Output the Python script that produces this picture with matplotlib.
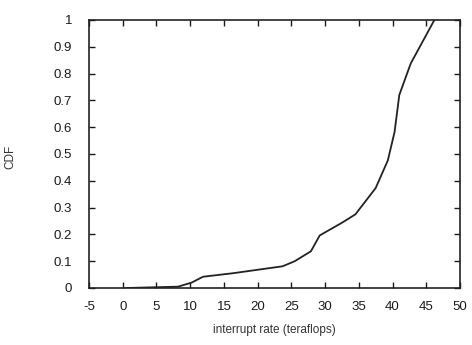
import matplotlib
matplotlib.use('Agg')
import matplotlib.pyplot as plt

plt.rcParams['font.family'] = ['Liberation Sans', 'DejaVu Sans']
plt.rcParams['axes.unicode_minus'] = False

# CDF curve
rate = [0.5, 8.2, 10.2, 11.9, 16.3, 23.7, 25.5, 27.9, 29.2, 32.6, 34.5, 37.5, 39.3, 40.3, 41.0, 42.7, 46.2]
cdf = [0.0, 0.005, 0.02, 0.042, 0.055, 0.081, 0.1, 0.137, 0.196, 0.245, 0.275, 0.373, 0.476, 0.582, 0.72, 0.838, 1.0]

xticks = [-5, 0, 5, 10, 15, 20, 25, 30, 35, 40, 45, 50]
yticks = [0, 0.1, 0.2, 0.3, 0.4, 0.5, 0.6, 0.7, 0.8, 0.9, 1]
ylabels = ['0', '0.1', '0.2', '0.3', '0.4', '0.5', '0.6', '0.7', '0.8', '0.9', '1']

fig = plt.figure(figsize=(4.72, 3.45), dpi=100)
ax = fig.add_axes([89/472, 1-288/345, 371/472, 268/345])

ax.plot(rate, cdf, color='#222222', lw=1.3)

ax.set_xlim(-5, 50)
ax.set_ylim(0, 1)
ax.set_xticks(xticks)
ax.set_yticks(yticks)
ax.set_yticklabels(ylabels)
ax.tick_params(direction='in', top=True, right=True, length=4, width=1,
               labelsize=9.5, colors='#1a1a1a')
ax.tick_params(axis='x', pad=9)
ax.tick_params(axis='y', pad=12)
for s in ax.spines.values():
    s.set_linewidth(1.2)
    s.set_color('#222222')

ax.set_xlabel('interrupt rate (teraflops)', fontsize=8.5, color='#333333')
ax.set_ylabel('CDF', fontsize=8.5, color='#333333')
ax.xaxis.set_label_coords(0.5, -0.135)
ax.yaxis.set_label_coords(-0.195, 0.49)

fig.savefig('out.png', dpi=100)
